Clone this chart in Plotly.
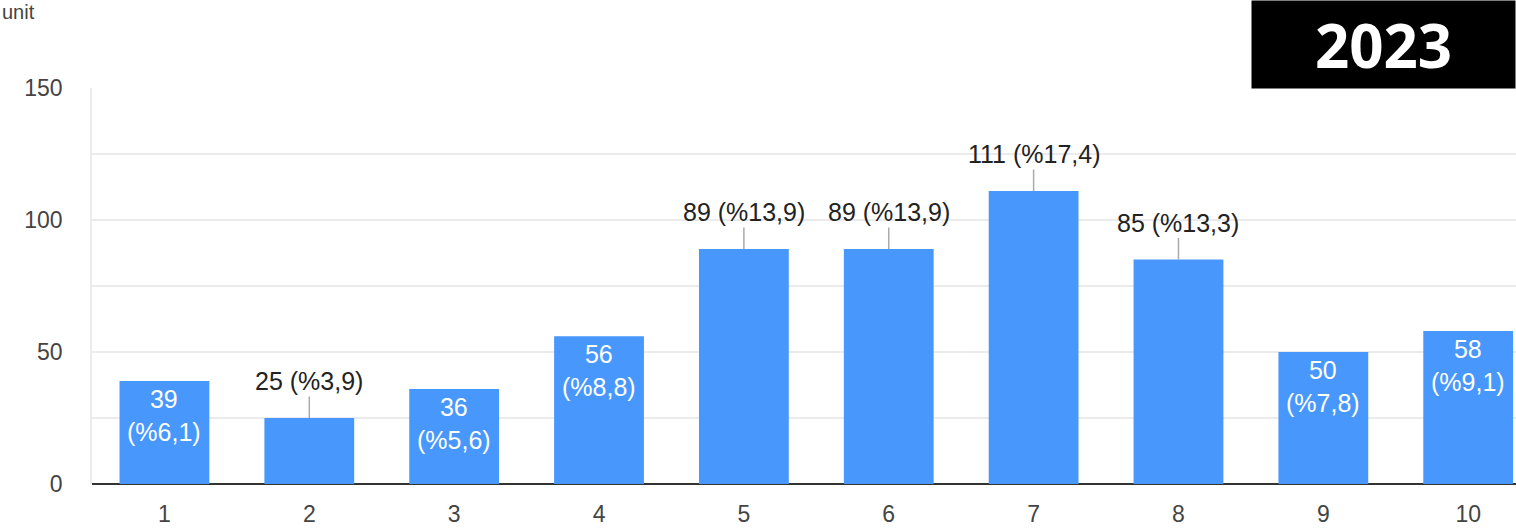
import plotly.graph_objects as go

categories = [1, 2, 3, 4, 5, 6, 7, 8, 9, 10]
counts = [39, 25, 36, 56, 89, 89, 111, 85, 50, 58]
percents = ["6,1", "3,9", "5,6", "8,8", "13,9", "13,9", "17,4", "13,3", "7,8", "9,1"]
label_inside = [True, False, True, True, False, False, False, False, True, True]
y_tickvals = [0, 25, 50, 75, 100, 125, 150]
y_ticktext = ["0", "", "50", "", "100", "", "150"]
x_ticktext = [str(c) for c in categories]

BAR = "#4897fc"
FONT = "Arial, Liberation Sans, sans-serif"

fig = go.Figure()
fig.add_trace(go.Bar(
    x=categories, y=counts, width=0.62,
    marker=dict(color=BAR, line=dict(width=0)),
    hoverinfo="skip",
))

annotations = []
for c, v, p, inside in zip(categories, counts, percents, label_inside):
    if inside:
        annotations.append(dict(
            x=c, y=v, xref="x", yref="y", text=f"{v}<br>(%{p})",
            showarrow=False, yanchor="top", yshift=-2,
            font=dict(family=FONT, size=25, color="white"),
        ))
    else:
        annotations.append(dict(
            x=c, y=v, xref="x", yref="y", text=f"{v} (%{p})",
            showarrow=True, ax=0, ay=-37, arrowhead=0, arrowwidth=1.5,
            arrowcolor="#aaaaaa", standoff=0, startstandoff=0,
            font=dict(family=FONT, size=25, color="#222222"),
        ))

annotations.append(dict(
    x=0, y=1, xref="paper", yref="paper", xanchor="left", yanchor="top",
    xshift=-92, yshift=89, text="unit", showarrow=False,
    font=dict(family=FONT, size=20, color="#444444"),
))
annotations.append(dict(
    x=1, y=1, xref="paper", yref="paper", xanchor="right", yanchor="top",
    yshift=88, text="<b>2023</b>", showarrow=False, bgcolor="black",
    width=263, height=87, borderpad=0, align="center", valign="middle",
    font=dict(family="Open Sans, DejaVu Sans, sans-serif", size=60, color="white"),
))

fig.update_layout(
    width=1516, height=528,
    margin=dict(l=92, r=0, t=88, b=44),
    paper_bgcolor="white", plot_bgcolor="white",
    showlegend=False,
    annotations=annotations,
    xaxis=dict(
        range=[0.5, 10.33], tickvals=categories, ticktext=x_ticktext,
        showgrid=False, zeroline=False, showline=False, ticks="",
        ticklabelstandoff=14,
        tickfont=dict(family=FONT, size=23, color="#444444"),
    ),
    yaxis=dict(
        range=[0, 150], tickvals=y_tickvals, ticktext=y_ticktext,
        showgrid=True, gridcolor="#ebebeb", gridwidth=1.5,
        zeroline=True, zerolinecolor="#333333", zerolinewidth=2,
        showline=True, linecolor="#ebebeb", linewidth=1.5,
        ticks="", ticklabelstandoff=23,
        tickfont=dict(family=FONT, size=23, color="#444444"),
    ),
)

fig.write_html(
    "out.html",
    config={"displayModeBar": False},
    post_script="document.body.style.margin='0';document.body.style.overflow='hidden';",
)
